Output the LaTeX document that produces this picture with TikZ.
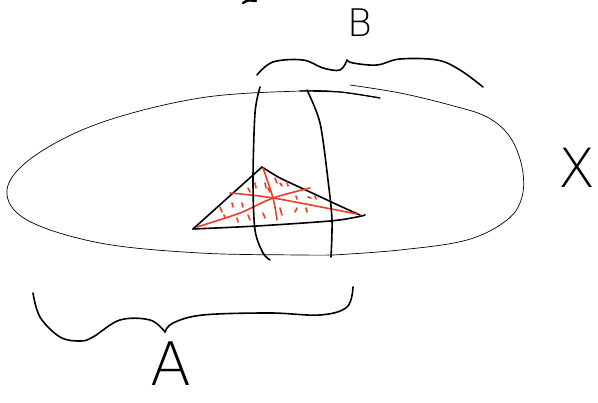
\documentclass[tikz,border=0pt]{standalone}
\usepackage{fontspec}
\newfontfamily\handfont{DejaVu Sans ExtraLight}
\definecolor{sketchred}{RGB}{240,60,40}
\tikzset{
  thin stroke/.style={line width=0.7pt, black, line cap=round, line join=round},
  pen/.style={line width=1.6pt, black, line cap=round, line join=round},
  redpen/.style={line width=1.6pt, sketchred, line cap=round, line join=round},
  hatch/.style={line width=1.6pt, sketchred, line cap=round},
  letter/.style={inner sep=0pt, anchor=base, font=\handfont}
}
\begin{document}
\begin{tikzpicture}[x=1pt,y=-1pt]
\useasboundingbox (0,0) rectangle (598,403);
% ellipse X (left part, open near top)
\draw[thin stroke] plot[smooth, tension=0.6] coordinates {(380,98) (340,92) (300,91) (200,98) (100,123) (33,157) (7,190) (27,220) (100,243) (200,253) (300,255) (333,255)};
\draw[pen, line width=1.3pt] plot[smooth] coordinates {(300,91) (340,92) (380,98)};
% ellipse right part
\draw[thin stroke] plot[smooth, tension=0.6] coordinates {(350,85) (400,93) (450,105) (487,117) (510,137) (522,167) (522,197) (507,220) (467,240) (400,250) (333,255)};
% triangle
\draw[pen] plot[smooth, tension=0.4] coordinates {(262,167) (280,178) (310,192) (340,206) (360,215)};
\draw[pen] (262,167) -- (193,229);
\draw[pen] plot[smooth, tension=0.5] coordinates {(193,229) (257,226) (330,221) (357,217) (365,215)};
% red lines
\draw[redpen] plot[smooth] coordinates {(263,168) (273,198) (277,220)};
\draw[redpen] plot[smooth] coordinates {(230,193) (273,198) (357,214)};
\draw[redpen] plot[smooth] coordinates {(197,227) (240,213) (273,198) (310,188)};
% red hatching
\foreach \a/\b/\c/\d in {248/188/250/192, 255/183/256/188, 265/183/266/188, 268/188/270/192, 275/178/277/183, 280/183/282/186, 287/182/288/186, 296/196/297/199, 308/197/311/198, 315/196/316/199, 220/207/222/212, 232/203/233/207, 242/203/243/207, 237/218/238/222, 248/215/250/220, 263/213/265/218, 280/208/282/215, 297/208/295/212, 306/208/307/212, 224/215/225/218}
  \draw[hatch] (\a,\b) -- (\c,\d);
% vertical lines of B
\draw[pen] plot[smooth] coordinates {(260,87) (255,113) (253,180) (255,230) (263,253) (270,260)};
\draw[pen] plot[smooth] coordinates {(307,90) (320,123) (328,180) (332,220) (331,257)};
% brace B
\draw[pen] plot[smooth, tension=0.6] coordinates {(257,75) (273,62) (303,60) (323,68) (340,70) (347,60)};
\draw[pen] plot[smooth, tension=0.6] coordinates {(347,60) (353,63) (377,65) (400,59) (437,60) (460,70) (483,87)};
% brace A
\draw[pen] plot[smooth, tension=0.6] coordinates {(33,293) (40,317) (60,337) (80,341) (93,337) (120,320) (150,320) (165,332)};
\draw[pen] plot[smooth, tension=0.6] coordinates {(165,332) (173,323) (203,315) (270,313) (320,315) (347,307) (353,287)};
% mark at top
\draw[pen, line width=2.5pt] (243,3) .. controls (248,0) .. (256,1);
% labels
\node[letter, font=\handfont\fontsize{38}{38}\selectfont] (labB) at (360,37) {B};
\node[letter, font=\handfont\fontsize{54}{54}\selectfont] (labX) at (577,188) {X};
\node[letter, font=\handfont\fontsize{60}{60}\selectfont] (labA) at (171,386) {A};
\end{tikzpicture}
\end{document}
